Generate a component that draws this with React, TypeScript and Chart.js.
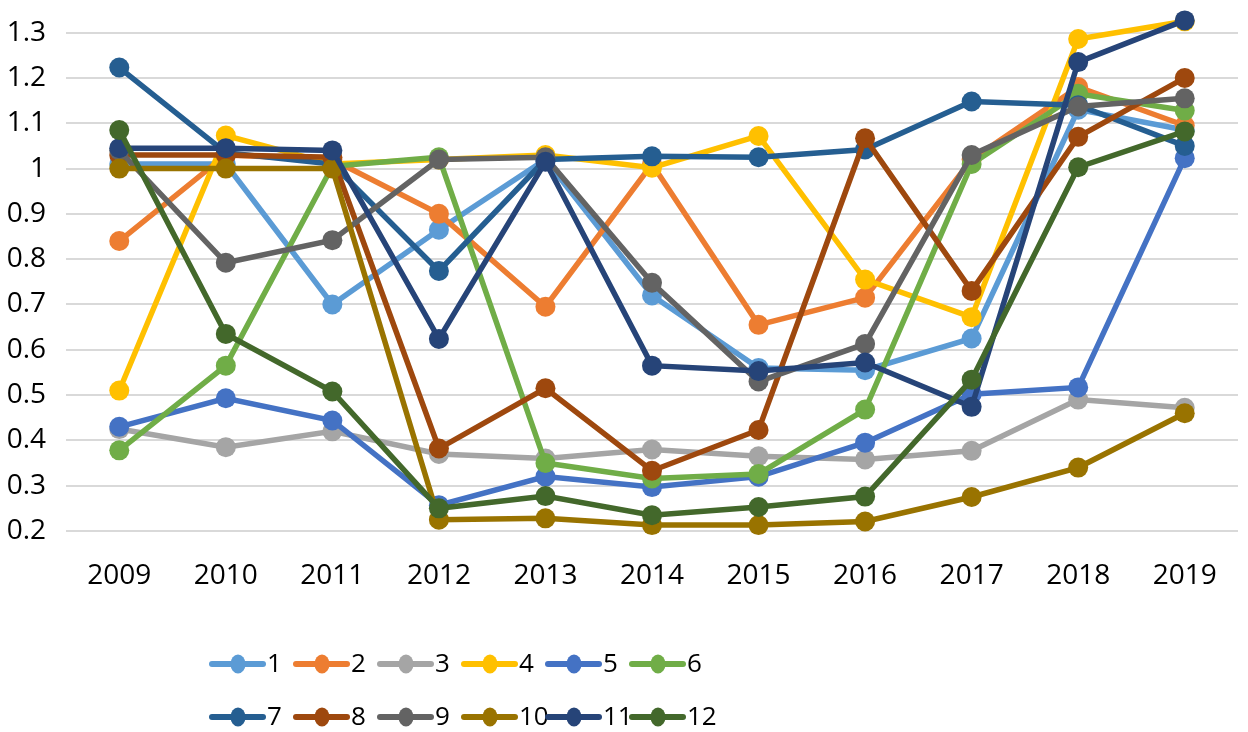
import { useEffect, useRef } from 'react';
import { Chart, registerables, ChartConfiguration, Plugin } from 'chart.js';

Chart.register(...registerables);

const years = ['2009', '2010', '2011', '2012', '2013', '2014', '2015', '2016', '2017', '2018', '2019'];

const s1 = [1.01, 1.01, 0.7, 0.865, 1.02, 0.72, 0.56, 0.555, 0.625, 1.13, 1.085];
const s2 = [0.84, 1.03, 1.02, 0.9, 0.695, 1.01, 0.655, 0.715, 1.02, 1.18, 1.095];
const s3 = [0.425, 0.385, 0.42, 0.37, 0.36, 0.38, 0.365, 0.358, 0.377, 0.49, 0.472];
const s4 = [0.51, 1.073, 1.01, 1.02, 1.03, 1.002, 1.072, 0.755, 0.672, 1.286, 1.325];
const s5 = [0.43, 0.493, 0.444, 0.257, 0.32, 0.297, 0.32, 0.395, 0.502, 0.517, 1.023];
const s6 = [0.378, 0.565, 1.005, 1.025, 0.35, 0.316, 0.326, 0.468, 1.01, 1.165, 1.128];
const s7 = [1.223, 1.035, 1.01, 0.774, 1.02, 1.027, 1.025, 1.042, 1.148, 1.14, 1.05];
const s8 = [1.03, 1.03, 1.025, 0.382, 0.515, 0.333, 0.423, 1.067, 0.73, 1.07, 1.2];
const s9 = [1.04, 0.792, 0.842, 1.02, 1.025, 0.748, 0.53, 0.613, 1.03, 1.137, 1.155];
const s10 = [1.0, 1.0, 1.0, 0.225, 0.228, 0.213, 0.213, 0.221, 0.275, 0.34, 0.46];
const s11 = [1.045, 1.045, 1.04, 0.624, 1.015, 0.565, 0.553, 0.572, 0.474, 1.235, 1.327];
const s12 = [1.085, 0.635, 0.508, 0.25, 0.277, 0.235, 0.253, 0.276, 0.534, 1.003, 1.082];

const seriesValues = [s1, s2, s3, s4, s5, s6, s7, s8, s9, s10, s11, s12];
const seriesNames = ['1', '2', '3', '4', '5', '6', '7', '8', '9', '10', '11', '12'];
const seriesColors = [
  '#5B9BD5', '#ED7D31', '#A5A5A5', '#FFC000', '#4472C4', '#70AD47',
  '#255E91', '#9E480E', '#636363', '#997300', '#264478', '#43682B',
];

const yTicks = [0.2, 0.3, 0.4, 0.5, 0.6, 0.7, 0.8, 0.9, 1, 1.1, 1.2, 1.3];
const yTickLabels = ['0.2', '0.3', '0.4', '0.5', '0.6', '0.7', '0.8', '0.9', '1', '1.1', '1.2', '1.3'];
const yMin = 0.2;
const yMax = 1.35; // a little headroom above the 1.3 gridline so the top markers are not cut

const FONT_FAMILY = '"Open Sans", "Liberation Sans", sans-serif';
const FONT_SIZE = 28;
const LEGEND_FONT_SIZE = 26;

// legend in two rows of six, like the Excel original
const rowLegend: Plugin<'line'> = {
  id: 'rowLegend',
  afterDraw(chart) {
    const ctx = chart.ctx;
    chart.data.datasets.forEach((ds, i) => {
      const row = Math.floor(i / 6);
      const col = i % 6;
      const x = 212 + col * 84;
      const y = 664 + row * 53;
      const color = ds.borderColor as string;
      ctx.save();
      ctx.strokeStyle = color;
      ctx.lineWidth = 6;
      ctx.lineCap = 'round';
      ctx.beginPath();
      ctx.moveTo(x, y);
      ctx.lineTo(x + 51, y);
      ctx.stroke();
      ctx.fillStyle = color;
      ctx.beginPath();
      ctx.ellipse(x + 26, y, 7.5, 9.5, 0, 0, Math.PI * 2);
      ctx.fill();
      ctx.fillStyle = '#000';
      ctx.font = `${LEGEND_FONT_SIZE}px ${FONT_FAMILY}`;
      ctx.textBaseline = 'middle';
      ctx.textAlign = 'left';
      ctx.fillText(ds.label ?? '', x + 55, y + 1);
      ctx.restore();
    });
  },
};

export default function App() {
  const canvasRef = useRef<HTMLCanvasElement | null>(null);
  const chartRef = useRef<Chart | null>(null);

  useEffect(() => {
    if (!canvasRef.current) return;
    const ctx = canvasRef.current.getContext('2d');
    if (!ctx) return;

    const config: ChartConfiguration<'line'> = {
      type: 'line',
      data: {
        labels: years,
        datasets: seriesValues.map((vals, i) => ({
          label: seriesNames[i],
          data: vals,
          borderColor: seriesColors[i],
          backgroundColor: seriesColors[i],
          borderWidth: 5.5,
          pointRadius: 10,
          pointBorderWidth: 0,
          pointHoverRadius: 10,
          tension: 0,
          clip: false,
          // later series sit on top, as in Excel
          order: seriesValues.length - i,
        })),
      },
      options: {
        responsive: true,
        maintainAspectRatio: false,
        animation: false,
        events: [],
        layout: { padding: { top: 8, right: 5, left: 0, bottom: 0 } },
        plugins: {
          legend: { display: false },
          tooltip: { enabled: false },
        },
        scales: {
          x: {
            offset: true,
            grid: { display: false },
            border: { display: false },
            ticks: {
              color: '#000',
              padding: 20,
              maxRotation: 0,
              font: { family: FONT_FAMILY, size: FONT_SIZE },
            },
            afterFit: (scale) => {
              scale.height = 201;
              scale.paddingLeft = 0;
              scale.paddingRight = 0;
            },
          },
          y: {
            min: yMin,
            max: yMax,
            border: { display: false },
            grid: { color: '#D9D9D9', lineWidth: 2, drawTicks: false },
            ticks: {
              color: '#000',
              padding: 20,
              font: { family: FONT_FAMILY, size: FONT_SIZE },
              callback: (_v, index) => yTickLabels[index] ?? '',
            },
            afterBuildTicks: (scale) => {
              scale.ticks = yTicks.map((value) => ({ value }));
            },
            afterFit: (scale) => {
              scale.width = 66;
              scale.paddingTop = 0;
              scale.paddingBottom = 0;
            },
          },
        },
      },
      plugins: [rowLegend],
    };

    chartRef.current = new Chart(ctx, config);

    return () => {
      if (chartRef.current) {
        chartRef.current.destroy();
        chartRef.current = null;
      }
    };
  }, []);

  return (
    <div style={{ position: 'fixed', left: 0, top: 0, width: 1248, height: 732, background: '#fff' }}>
      <canvas ref={canvasRef} />
    </div>
  );
}
